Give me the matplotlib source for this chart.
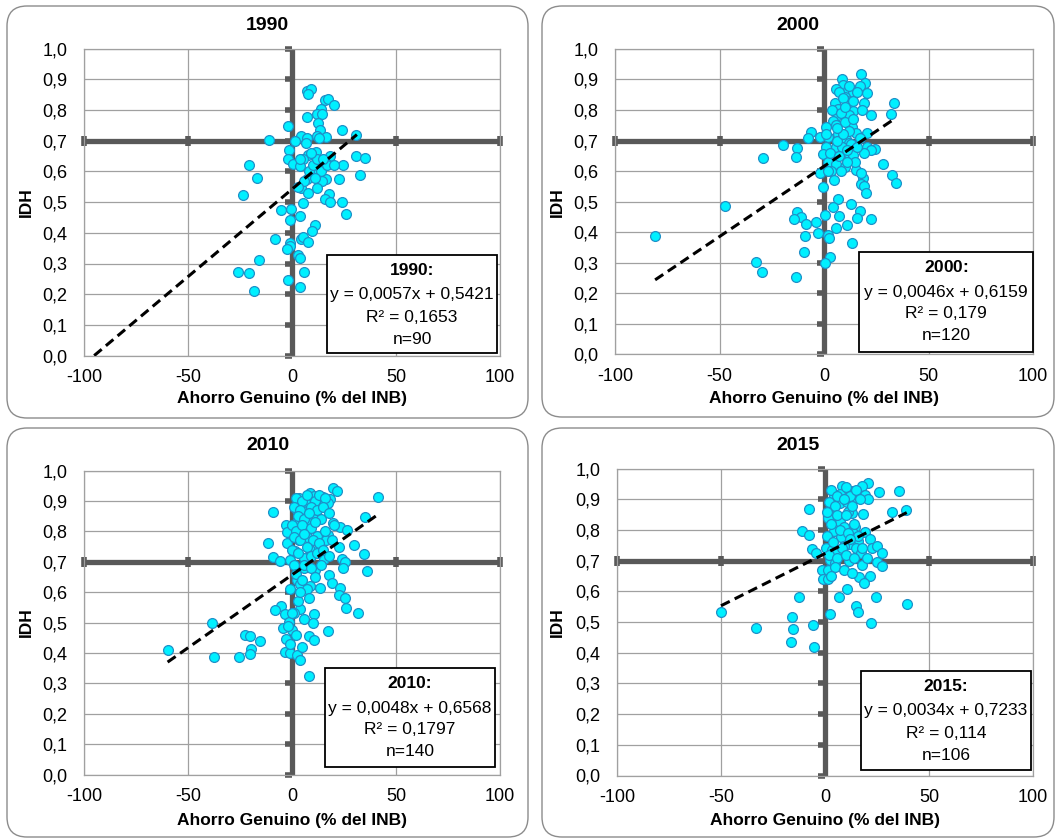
import matplotlib
matplotlib.use("Agg")
import matplotlib.pyplot as plt
from matplotlib.patches import FancyBboxPatch, Rectangle
from matplotlib.ticker import FuncFormatter

plt.rcParams['font.family'] = ['Liberation Sans', 'DejaVu Sans']
plt.rcParams['mathtext.fontset'] = 'custom'
plt.rcParams['mathtext.rm'] = 'Liberation Sans'
plt.rcParams['mathtext.bf'] = 'Liberation Sans:bold'
plt.rcParams['axes.unicode_minus'] = False

years = ["1990", "2000", "2010", "2015"]
headers = ["1990:", r"$\mathbf{2000}$:", "2010:", "2015:"]
equations = ["y = 0,0057x + 0,5421", "y = 0,0046x + 0,6159",
             "y = 0,0048x + 0,6568", "y = 0,0034x + 0,7233"]
r2_labels = ["R² = 0,1653", "R² = 0,179", "R² = 0,1797", "R² = 0,114"]
n_labels = ["n=90", "n=120", "n=140", "n=106"]
slopes = [0.0057, 0.0046, 0.0048, 0.0034]
intercepts = [0.5421, 0.6159, 0.6568, 0.7233]
trend_start = [-95.1, -80.8, -59.8, -50.0]
trend_end = [31.2, 33.3, 41.3, 39.3]

# Ahorro genuino (% INB) vs IDH
ag_1990 = [7.3, 8.9, 7.8, 15.8, 17.5, 20.2, 13.9, 11.8, 14.2, 7.4, 12.6, -1.9, 13.4, 23.9,
           30.9, 11.8, 16.3, 4.5, 7.0, -11.2, 1.3, 6.5, -1.5, 11.5, 7.8, 18.3, 30.6, 35.2,
           -1.9, 5.3, 15.0, 13.4, 0.5, -20.9, 24.3, 3.7, 16.7, 9.4, 12.6, 32.8, -17.0, 7.0,
           16.2, 14.2, 22.6, 11.8, 4.5, -23.4, 7.8, 17.9, 15.8, 18.3, 23.9, 5.3, 25.9, -5.2,
           -0.6, -1.1, 3.7, 11.0, 9.4, -8.4, 4.5, 5.3, 7.8, -0.8, -1.1, -2.3, 2.9, 3.7,
           -15.7, -25.9, -20.5, 5.8, -1.9, 3.7, -18.1,
           8.0, 10.0, 14.0, 12.0, 6.0, 17.0, 9.0, 13.0, 4.0, 11.0, 20.0, 3.0, 15.0]
idh_1990 = [0.862, 0.867, 0.851, 0.833, 0.835, 0.815, 0.802, 0.786, 0.786, 0.778, 0.757, 0.748,
            0.735, 0.734, 0.720, 0.715, 0.713, 0.715, 0.710, 0.702, 0.699, 0.693, 0.670, 0.663,
            0.652, 0.650, 0.650, 0.645, 0.641, 0.639, 0.637, 0.628, 0.623, 0.621, 0.621, 0.617,
            0.623, 0.601, 0.596, 0.587, 0.579, 0.574, 0.576, 0.568, 0.574, 0.547, 0.547, 0.522,
            0.530, 0.528, 0.509, 0.500, 0.500, 0.496, 0.460, 0.474, 0.478, 0.443, 0.454, 0.427,
            0.405, 0.380, 0.380, 0.387, 0.371, 0.367, 0.357, 0.346, 0.329, 0.318, 0.310, 0.272,
            0.270, 0.272, 0.245, 0.224, 0.212,
            0.600, 0.620, 0.600, 0.640, 0.570, 0.620, 0.660, 0.710, 0.640, 0.580, 0.620, 0.550,
            0.640]

ag_2000 = [17.8, 8.5, 19.7, 9.0, 17.0, 11.4, 13.8, 5.8, 20.5, 10.1, 5.4, 11.0, 12.2, 19.1,
           33.3, 6.6, 13.8, 31.9, 22.3, 11.9, 6.6, 4.2, 5.8, 1.0, 13.5, -6.2, 15.4, 20.5,
           -7.5, -1.9, 2.1, 6.6, 10.6, 11.9, -19.4, -12.7, 1.0, 5.8, 8.5, 20.5, 24.5, 22.3,
           -0.6, 12.2, 14.1, -13.5, -29.2, 2.1, 5.8, 28.2, 10.1, 15.4, 3.4, -1.9, 32.7, 18.6,
           17.8, 34.3, 17.5, 19.1, -0.3, 20.2, 6.6, 12.7, 4.2, -12.7, 17.0, -11.1, 7.4, 0.5,
           -14.3, 22.6, -8.7, -3.8, 15.9, 11.1, 5.8, -3.0, 1.8, 2.6, -9.1, 13.5, -9.8, 3.0,
           0.5, -32.4, -29.5, -13.5, -47.6, -80.8,
           7.0, 9.0, 12.0, 14.0, 16.0, 4.0, 8.0, 10.0, 12.0, 6.0, 9.0, 3.0, 7.0, 13.0,
           15.0, 11.0, 2.0, 5.0, 8.0, 17.0, 19.0, 1.0, 10.0, 14.0, 18.0, 6.0, 11.0, 16.0]
idh_2000 = [0.918, 0.900, 0.889, 0.881, 0.878, 0.866, 0.860, 0.868, 0.855, 0.844, 0.822, 0.828,
            0.824, 0.822, 0.822, 0.803, 0.798, 0.787, 0.784, 0.784, 0.784, 0.764, 0.751, 0.744,
            0.744, 0.729, 0.726, 0.724, 0.710, 0.713, 0.713, 0.721, 0.704, 0.691, 0.686, 0.675,
            0.678, 0.680, 0.678, 0.678, 0.673, 0.669, 0.656, 0.656, 0.653, 0.645, 0.644, 0.631,
            0.624, 0.624, 0.615, 0.604, 0.599, 0.593, 0.588, 0.577, 0.595, 0.560, 0.557, 0.552,
            0.547, 0.530, 0.508, 0.493, 0.484, 0.466, 0.470, 0.451, 0.454, 0.457, 0.443, 0.444,
            0.427, 0.435, 0.446, 0.424, 0.413, 0.397, 0.391, 0.380, 0.389, 0.364, 0.334, 0.320,
            0.299, 0.304, 0.269, 0.255, 0.487, 0.389,
            0.860, 0.840, 0.880, 0.830, 0.860, 0.800, 0.790, 0.760, 0.730, 0.700, 0.720, 0.660,
            0.650, 0.690, 0.630, 0.670, 0.600, 0.570, 0.600, 0.710, 0.660, 0.720, 0.810, 0.770,
            0.800, 0.740, 0.630, 0.680]

ag_2010 = [41.3, 19.7, 21.6, 8.5, 3.2, 10.4, 14.9, 18.1, 6.4, 12.8, 17.5, 2.4, -9.1, 7.2,
           35.3, 10.4, 7.2, 2.4, 19.7, -2.7, 23.2, 26.4, -2.4, 4.8, 12.0, 17.5, 7.2, 3.2,
           16.3, -11.5, -2.4, 22.4, 29.8, 1.3, 8.8, 12.8, 34.5, -9.3, -5.6, 5.9, -0.8, 15.2,
           24.0, 25.6, 24.5, 36.1, 11.2, 5.6, 17.6, 2.4, 19.2, 4.0, 8.5, 13.6, 23.2, -1.1,
           22.8, 25.3, 26.1, 31.6, -5.3, -8.0, 4.0, 1.1, -3.5, 10.4, 10.1, -1.6, -38.5, -4.3,
           0.0, 17.3, -22.4, -20.0, 8.0, -15.2, -2.7, 10.4, -3.2, -19.7, -1.1, 2.4, 4.0,
           -20.0, -37.7, -25.6, -59.8, 8.0,
           2.0, 5.0, 7.0, 11.0, 13.0, 16.0, 1.0, 4.0, 9.0, 12.0, 15.0, 3.0, 6.0, 8.0,
           14.0, 18.0, 0.0, 2.0, 5.0, 9.0, 11.0, 16.0, 20.0, 1.0, 4.0, 6.0, 10.0, 13.0,
           19.0, 0.0, 3.0, 7.0, 9.0, 12.0, 15.0, 18.0, 1.0, 6.0, 9.0, 14.0, 2.0, 5.0,
           11.0, 7.0, 3.0, 0.0, 6.0, -2.0, 2.0, 5.0, -1.0, 8.0, 4.0]
idh_2010 = [0.914, 0.941, 0.933, 0.927, 0.911, 0.916, 0.914, 0.905, 0.897, 0.886, 0.892, 0.870,
            0.862, 0.868, 0.848, 0.839, 0.831, 0.831, 0.828, 0.820, 0.815, 0.804, 0.799, 0.799,
            0.784, 0.788, 0.780, 0.771, 0.773, 0.760, 0.760, 0.747, 0.755, 0.736, 0.738, 0.744,
            0.724, 0.714, 0.703, 0.713, 0.705, 0.708, 0.708, 0.700, 0.678, 0.670, 0.673, 0.678,
            0.656, 0.640, 0.631, 0.627, 0.621, 0.612, 0.612, 0.609, 0.590, 0.580, 0.547, 0.530,
            0.554, 0.541, 0.544, 0.532, 0.528, 0.528, 0.497, 0.503, 0.497, 0.481, 0.475, 0.472,
            0.459, 0.454, 0.456, 0.440, 0.445, 0.443, 0.404, 0.412, 0.399, 0.393, 0.377, 0.397,
            0.386, 0.386, 0.408, 0.324,
            0.910, 0.900, 0.920, 0.900, 0.920, 0.910, 0.880, 0.870, 0.880, 0.870, 0.880, 0.850,
            0.840, 0.860, 0.840, 0.860, 0.820, 0.800, 0.820, 0.810, 0.830, 0.800, 0.820, 0.780,
            0.770, 0.790, 0.770, 0.760, 0.770, 0.740, 0.730, 0.750, 0.720, 0.730, 0.740, 0.720,
            0.690, 0.690, 0.680, 0.690, 0.660, 0.640, 0.650, 0.610, 0.570, 0.530, 0.510, 0.490,
            0.460, 0.420, 0.430, 0.580, 0.600]

ag_2015 = [20.8, 8.0, 17.9, 13.6, 26.1, 35.7, 4.3, 19.2, 7.2, 15.2, 20.8, 7.2, 10.4, -7.5,
           38.9, 32.1, 1.6, 4.8, 12.8, 18.4, 11.2, 1.6, 7.2, 9.1, 14.4, -11.2, 4.3, -7.5,
           13.6, 19.2, 7.7, 15.9, 21.6, 12.0, 9.1, 22.8, 24.8, 14.9, -6.4, 0.5, 3.2, -4.3,
           5.6, 17.1, 27.4, 2.4, 11.7, 24.8, 27.6, 4.8, 17.6, -1.6, 1.6, -0.8, 1.6, 21.6,
           16.3, 18.8, 10.7, -12.3, 6.9, 24.4, 39.3, 14.9, 16.0, -50.0, 2.4, -16.0, -15.2,
           -33.3, -5.9, 22.0, -16.2, -5.1,
           3.0, 6.0, 10.0, 12.0, 15.0, 2.0, 5.0, 9.0, 13.0, 17.0, 1.0, 6.0, 10.0, 14.0,
           3.0, 7.0, 11.0, 16.0, 1.0, 4.0, 8.0, 12.0, 18.0, 2.0, 6.0, 10.0, 14.0, 20.0,
           5.0, 9.0, 3.0, 13.0]
idh_2015 = [0.952, 0.943, 0.943, 0.928, 0.925, 0.928, 0.911, 0.914, 0.917, 0.903, 0.900, 0.887,
            0.892, 0.868, 0.867, 0.858, 0.854, 0.849, 0.854, 0.851, 0.860, 0.838, 0.827, 0.809,
            0.811, 0.798, 0.798, 0.784, 0.791, 0.795, 0.778, 0.765, 0.770, 0.754, 0.748, 0.740,
            0.748, 0.740, 0.738, 0.743, 0.735, 0.726, 0.729, 0.726, 0.726, 0.704, 0.700, 0.697,
            0.683, 0.693, 0.686, 0.670, 0.670, 0.640, 0.642, 0.650, 0.646, 0.626, 0.609, 0.582,
            0.582, 0.582, 0.559, 0.553, 0.534, 0.534, 0.528, 0.517, 0.478, 0.481, 0.492, 0.496,
            0.436, 0.420,
            0.930, 0.910, 0.940, 0.910, 0.930, 0.890, 0.880, 0.900, 0.880, 0.900, 0.860, 0.850,
            0.850, 0.820, 0.820, 0.800, 0.790, 0.780, 0.780, 0.760, 0.740, 0.770, 0.740, 0.720,
            0.710, 0.720, 0.710, 0.710, 0.680, 0.670, 0.650, 0.660]

xs = [ag_1990, ag_2000, ag_2010, ag_2015]
ys = [idh_1990, idh_2000, idh_2010, idh_2015]

W, H = 1055, 839
fig = plt.figure(figsize=(W / 100, H / 100), dpi=100)


def fx(x):
    return x / W


def fy(y):
    return 1 - y / H


# pixel layout: plot area, panel frame, equation box, title/xlabel rows
axes_px = [(84, 48.6, 500, 355.6), (615, 48.9, 1033, 354.5),
           (84, 470.5, 500, 774.5), (617, 468.7, 1033, 775.5)]
frames_px = [(7, 6, 528, 418), (542, 6, 1054, 417),
             (7, 428, 528, 837), (542, 428, 1054, 837)]
boxes_px = [(327, 255, 497, 353), (859, 252, 1033, 352),
            (325, 668, 495, 767), (861, 671, 1031, 770)]
title_y = [25, 25, 446, 446]
xlabel_y = [398, 398, 821, 821]
ylabel_x = [26, 557, 26, 557]

dark = '#595959'
grid_c = '#a0a0a0'
fs = 12.5

for i in range(4):
    l, t, r, b = frames_px[i]
    frame = FancyBboxPatch(((l) / 100, (H - b) / 100), (r - l) / 100, (b - t) / 100,
                           boxstyle="round,pad=0,rounding_size=0.2",
                           transform=fig.dpi_scale_trans, facecolor='white',
                           edgecolor='#8c8c8c', lw=1.0, zorder=-1)
    fig.patches.append(frame)

    l, t, r, b = axes_px[i]
    ax = fig.add_axes([fx(l), fy(b), fx(r - l), (b - t) / H])
    ax.set_xlim(-100, 100)
    ax.set_ylim(0, 1)
    ax.set_xticks([-100, -50, 0, 50, 100])
    ax.set_yticks([k / 10 for k in range(11)])
    ax.yaxis.set_major_formatter(FuncFormatter(lambda v, p: f"{v:.1f}".replace('.', ',')))
    ax.tick_params(length=0, labelsize=fs + 0.5)
    ax.tick_params(axis='y', pad=12)
    ax.tick_params(axis='x', pad=10)
    ax.set_axisbelow(True)
    ax.grid(color=grid_c, lw=0.9)
    for s in ax.spines.values():
        s.set_color(grid_c)
        s.set_linewidth(0.9)

    # thick reference lines at x=0 and IDH=0.7
    ax.plot([0, 0], [0, 1], color=dark, lw=3.8, solid_capstyle='butt', zorder=2, clip_on=False)
    ax.plot([-100, 100], [0.7, 0.7], color=dark, lw=3.8, solid_capstyle='butt', zorder=2,
            clip_on=False)
    ax.plot([0] * 11, [k / 10 for k in range(11)], ls='none', marker=0, ms=5, mew=4,
            color=dark, zorder=2, clip_on=False)
    ax.plot([-100, -50, 50, 100], [0.7] * 4, ls='none', marker='|', ms=7.5, mew=4,
            color=dark, zorder=2, clip_on=False)

    ax.scatter(xs[i], ys[i], s=50, facecolor='#00f0ff', edgecolor='#1e90c8', lw=0.9, zorder=3)

    x0, x1 = trend_start[i], trend_end[i]
    ax.plot([x0, x1], [slopes[i] * x0 + intercepts[i], slopes[i] * x1 + intercepts[i]],
            color='black', lw=2.2, ls=(0, (3.2, 1.8)), zorder=4)

    fl, ft, fr, fb = frames_px[i]
    fig.text(fx((fl + fr) / 2), fy(title_y[i]), years[i], ha='center', va='center',
             fontsize=fs + 1.5, fontweight='bold')
    fig.text(fx((l + r) / 2), fy(xlabel_y[i]), "Ahorro Genuino (% del INB)", ha='center',
             va='center', fontsize=fs, fontweight='bold')
    fig.text(fx(ylabel_x[i]), fy((t + b) / 2), "IDH", ha='center', va='center',
             rotation=90, fontsize=fs, fontweight='bold')

    bl, bt, br, bb = boxes_px[i]
    box = Rectangle((fx(bl), fy(bb)), fx(br - bl), (bb - bt) / H, transform=fig.transFigure,
                    facecolor='white', edgecolor='black', lw=1.3, zorder=5)
    fig.patches.append(box)
    cx = fx((bl + br) / 2)
    lines = [headers[i], equations[i], r2_labels[i], n_labels[i]]
    for j, (txt, off) in enumerate(zip(lines, [15.5, 40, 62, 84])):
        fig.text(cx, fy(bt + off), txt, ha='center', va='center', fontsize=fs,
                 fontweight='bold' if j == 0 else 'normal', zorder=6)

fig.savefig("out.png", dpi=100)
